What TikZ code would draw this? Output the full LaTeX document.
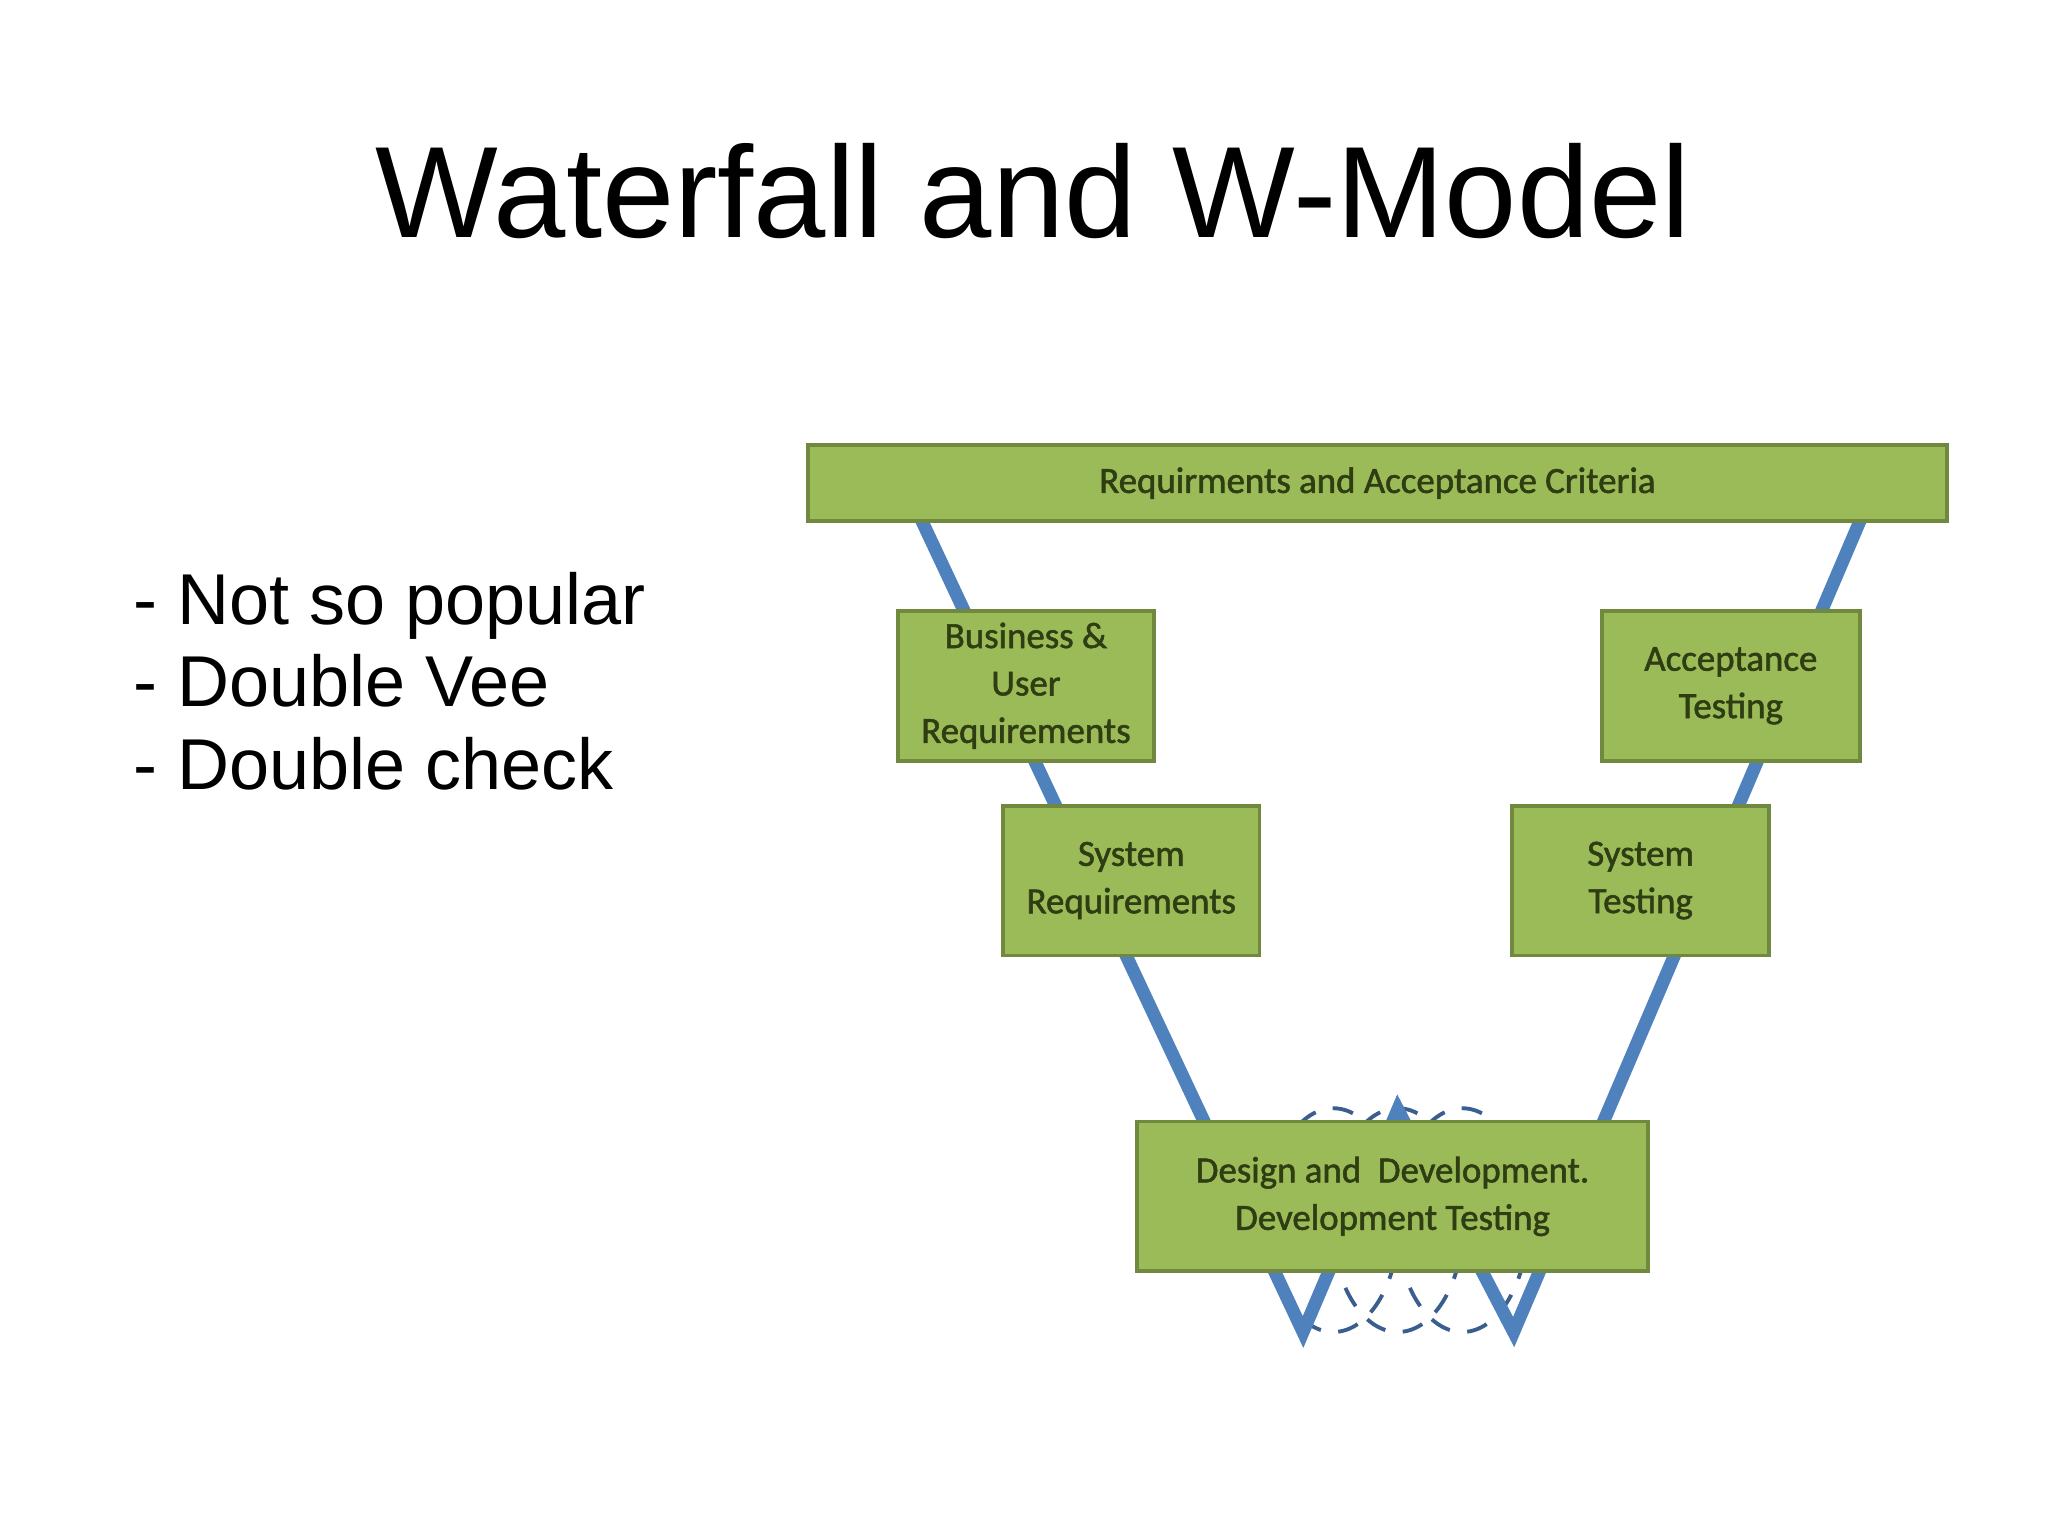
\documentclass[tikz,border=0pt]{standalone}
\usepackage{fontspec}
\setmainfont{Liberation Sans}
\newfontfamily\boxfont{Carlito}[FakeBold=1.5]
\begin{document}
\begin{tikzpicture}[x=0.013162cm,y=-0.013162cm,
  box/.style={draw=boxedge,fill=boxfill,line width=1.1pt,inner sep=0pt,font=\boxfont\fontsize{10.5}{13.5}\selectfont,text=boxtext,align=center},
  vline/.style={draw=vblue,line width=3.7pt,line join=miter},
  loopdash/.style={draw=dblue,line width=1.1pt,dash pattern=on 6pt off 5pt}]
\definecolor{boxfill}{HTML}{9BBB59}
\definecolor{boxedge}{HTML}{71893F}
\definecolor{boxtext}{HTML}{2F3D12}
\definecolor{vblue}{HTML}{4F81BD}
\definecolor{dblue}{HTML}{3A5F8F}
\useasboundingbox (0,0) rectangle (1556,1166);
\node[font=\fontsize{37}{44}\selectfont] (title) at (785,145) {Waterfall and W-Model};
\node[font=\fontsize{20.5}{23.5}\selectfont,align=left,anchor=north west] (list) at (92,425) {- Not so popular\\- Double Vee\\- Double check};
\coordinate (tl) at (685,363);
\coordinate (b1) at (990,1012);
\coordinate (pk) at (1062,843);
\coordinate (b2) at (1150,1012);
\coordinate (tr) at (1422,375);
\draw[loopdash] (1013,927) ellipse (50 and 85);
\draw[loopdash] (1062,927) ellipse (50 and 85);
\draw[loopdash] (1111,927) ellipse (50 and 85);
\draw[vline] (tl) -- (b1) -- (pk) -- (b2) -- (tr);
\node[box,minimum width=11.4cm,minimum height=0.763cm] (req) at (1046.5,367) {Requirments and Acceptance Criteria};
\node[box,minimum width=2.566cm,minimum height=1.5cm] (bus) at (779.5,521) {Business \&\\User\\Requirements};
\node[box,minimum width=2.58cm,minimum height=1.5cm] (acc) at (1315,521) {Acceptance\\Testing};
\node[box,minimum width=2.566cm,minimum height=1.5cm] (sreq) at (859.5,669) {System\\Requirements};
\node[box,minimum width=2.566cm,minimum height=1.5cm] (stest) at (1246.5,669) {System\\Testing};
\node[box,minimum width=5.107cm,minimum height=1.5cm] (dev) at (1058,909) {Design and\ \ Development.\\Development Testing};
\end{tikzpicture}
\end{document}
